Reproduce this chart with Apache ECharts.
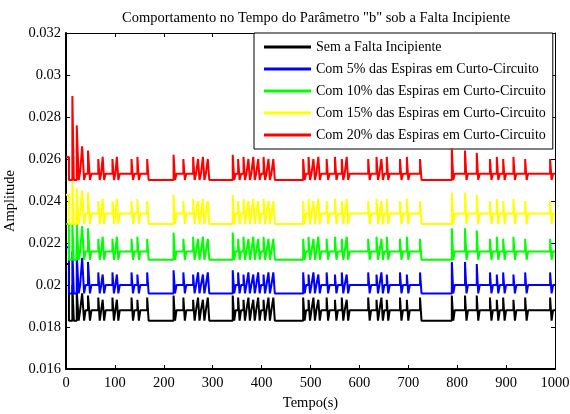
<!DOCTYPE html>
<html>
<head>
<meta charset="utf-8">
<script src="https://cdn.jsdelivr.net/npm/echarts@6/dist/echarts.min.js"></script>
<style>
  html, body { margin: 0; padding: 0; background: #fff; }
  #chart { width: 570px; height: 414px; }
</style>
</head>
<body>
<div id="chart"></div>
<script>
// Breakpoints of the step signal (s); each value holds until the next breakpoint
const tempo = [
  0, 6, 13, 16, 22, 26, 29, 33, 37, 40, 45, 49, 52,
  66, 69, 72,   75, 78, 81,   95, 98, 101,   104, 107, 110,
  134, 137, 140,   146, 149, 152,   166, 169,
  220, 223, 226,   240, 243, 246,   260, 263, 266,   270, 273, 276,
  280, 283, 286,   290, 293,
  341, 344, 347,   352, 355, 358,   363, 366, 369,   373, 376, 379,
  383, 386, 389,   393, 396, 399,   404, 407, 410,   414, 417, 420,
  424, 427,
  485, 488, 491,   496, 499, 502,   506, 509, 512,   516, 519, 522,
  533, 536, 539,   550, 553, 556,   564, 567, 570,   574, 577, 580,
  618, 621, 624,   635, 638, 641,   645, 648, 651,   656, 659, 662,
  683, 686, 689,   697, 700, 703,   724, 727,
  789, 792, 795,   816, 819, 822,   840, 843, 846,
  867, 870, 873,   881, 884, 887,   894, 897, 900,
  915, 918, 921,   939, 942, 945,   990, 993, 996,
  1000
];

const ampSemFalta = [
  0.0210, 0.0183, 0.0200, 0.0183, 0.0197, 0.0183, 0.0188, 0.0196, 0.0183, 0.0188, 0.0195, 0.0183, 0.0188,
  0.0194, 0.0183, 0.0188,   0.0193, 0.0183, 0.0188,   0.0194, 0.0183, 0.0188,   0.0193, 0.0183, 0.0188,
  0.0194, 0.0183, 0.0188,   0.0193, 0.0183, 0.0188,   0.0194, 0.0183,
  0.0195, 0.0183, 0.0188,   0.0194, 0.0183, 0.0188,   0.0193, 0.0183, 0.0188,   0.0194, 0.0183, 0.0188,
  0.0193, 0.0183, 0.0188,   0.0194, 0.0183,
  0.0195, 0.0183, 0.0188,   0.0194, 0.0183, 0.0188,   0.0193, 0.0183, 0.0188,   0.0194, 0.0183, 0.0188,
  0.0193, 0.0183, 0.0188,   0.0194, 0.0183, 0.0188,   0.0193, 0.0183, 0.0188,   0.0194, 0.0183, 0.0188,
  0.0194, 0.0183,
  0.0194, 0.0183, 0.0188,   0.0193, 0.0183, 0.0188,   0.0194, 0.0183, 0.0188,   0.0193, 0.0183, 0.0188,
  0.0194, 0.0183, 0.0188,   0.0193, 0.0183, 0.0188,   0.0194, 0.0183, 0.0188,   0.0193, 0.0183, 0.0188,
  0.0194, 0.0183, 0.0188,   0.0193, 0.0183, 0.0188,   0.0194, 0.0183, 0.0188,   0.0193, 0.0183, 0.0188,
  0.0194, 0.0183, 0.0188,   0.0193, 0.0183, 0.0188,   0.0194, 0.0183,
  0.0195, 0.0183, 0.0188,   0.0195, 0.0183, 0.0188,   0.0195, 0.0183, 0.0188,
  0.0194, 0.0183, 0.0188,   0.0193, 0.0183, 0.0188,   0.0194, 0.0183, 0.0188,
  0.0193, 0.0183, 0.0188,   0.0194, 0.0183, 0.0188,   0.0194, 0.0183, 0.0188,
  0.0188
];

const amp5 = [
  0.0218, 0.0196, 0.0216, 0.0196, 0.0215, 0.0196, 0.0200, 0.0213, 0.0196, 0.0200, 0.0211, 0.0196, 0.0200,
  0.0206, 0.0196, 0.0200,   0.0205, 0.0196, 0.0200,   0.0206, 0.0196, 0.0200,   0.0205, 0.0196, 0.0200,
  0.0206, 0.0196, 0.0200,   0.0205, 0.0196, 0.0200,   0.0206, 0.0196,
  0.0207, 0.0196, 0.0200,   0.0206, 0.0196, 0.0200,   0.0205, 0.0196, 0.0200,   0.0206, 0.0196, 0.0200,
  0.0205, 0.0196, 0.0200,   0.0206, 0.0196,
  0.0207, 0.0196, 0.0200,   0.0206, 0.0196, 0.0200,   0.0205, 0.0196, 0.0200,   0.0206, 0.0196, 0.0200,
  0.0205, 0.0196, 0.0200,   0.0206, 0.0196, 0.0200,   0.0205, 0.0196, 0.0200,   0.0206, 0.0196, 0.0200,
  0.0206, 0.0196,
  0.0206, 0.0196, 0.0200,   0.0205, 0.0196, 0.0200,   0.0206, 0.0196, 0.0200,   0.0205, 0.0196, 0.0200,
  0.0206, 0.0196, 0.0200,   0.0205, 0.0196, 0.0200,   0.0206, 0.0196, 0.0200,   0.0205, 0.0196, 0.0200,
  0.0206, 0.0196, 0.0200,   0.0205, 0.0196, 0.0200,   0.0206, 0.0196, 0.0200,   0.0205, 0.0196, 0.0200,
  0.0206, 0.0196, 0.0200,   0.0205, 0.0196, 0.0200,   0.0206, 0.0196,
  0.0211, 0.0196, 0.0200,   0.0211, 0.0196, 0.0200,   0.0210, 0.0196, 0.0200,
  0.0206, 0.0196, 0.0200,   0.0205, 0.0196, 0.0200,   0.0206, 0.0196, 0.0200,
  0.0205, 0.0196, 0.0200,   0.0206, 0.0196, 0.0200,   0.0206, 0.0196, 0.0200,
  0.0200
];

const amp10 = [
  0.0229, 0.0212, 0.0229, 0.0212, 0.0229, 0.0212, 0.0216, 0.0228, 0.0212, 0.0216, 0.0227, 0.0212, 0.0216,
  0.0222, 0.0212, 0.0216,   0.0223, 0.0212, 0.0216,   0.0222, 0.0212, 0.0216,   0.0223, 0.0212, 0.0216,
  0.0222, 0.0212, 0.0216,   0.0223, 0.0212, 0.0216,   0.0222, 0.0212,
  0.0225, 0.0212, 0.0216,   0.0222, 0.0212, 0.0216,   0.0223, 0.0212, 0.0216,   0.0222, 0.0212, 0.0216,
  0.0223, 0.0212, 0.0216,   0.0222, 0.0212,
  0.0225, 0.0212, 0.0216,   0.0222, 0.0212, 0.0216,   0.0223, 0.0212, 0.0216,   0.0222, 0.0212, 0.0216,
  0.0223, 0.0212, 0.0216,   0.0222, 0.0212, 0.0216,   0.0223, 0.0212, 0.0216,   0.0222, 0.0212, 0.0216,
  0.0222, 0.0212,
  0.0222, 0.0212, 0.0216,   0.0223, 0.0212, 0.0216,   0.0222, 0.0212, 0.0216,   0.0223, 0.0212, 0.0216,
  0.0222, 0.0212, 0.0216,   0.0223, 0.0212, 0.0216,   0.0222, 0.0212, 0.0216,   0.0223, 0.0212, 0.0216,
  0.0222, 0.0212, 0.0216,   0.0223, 0.0212, 0.0216,   0.0222, 0.0212, 0.0216,   0.0223, 0.0212, 0.0216,
  0.0222, 0.0212, 0.0216,   0.0223, 0.0212, 0.0216,   0.0222, 0.0212,
  0.0227, 0.0212, 0.0216,   0.0227, 0.0212, 0.0216,   0.0226, 0.0212, 0.0216,
  0.0222, 0.0212, 0.0216,   0.0223, 0.0212, 0.0216,   0.0222, 0.0212, 0.0216,
  0.0223, 0.0212, 0.0216,   0.0222, 0.0212, 0.0216,   0.0222, 0.0212, 0.0216,
  0.0216
];

const amp15 = [
  0.0243, 0.0229, 0.0249, 0.0229, 0.0246, 0.0229, 0.0234, 0.0245, 0.0229, 0.0234, 0.0244, 0.0229, 0.0234,
  0.0240, 0.0229, 0.0234,   0.0241, 0.0229, 0.0234,   0.0240, 0.0229, 0.0234,   0.0241, 0.0229, 0.0234,
  0.0240, 0.0229, 0.0234,   0.0241, 0.0229, 0.0234,   0.0240, 0.0229,
  0.0243, 0.0229, 0.0234,   0.0240, 0.0229, 0.0234,   0.0241, 0.0229, 0.0234,   0.0240, 0.0229, 0.0234,
  0.0241, 0.0229, 0.0234,   0.0240, 0.0229,
  0.0243, 0.0229, 0.0234,   0.0240, 0.0229, 0.0234,   0.0241, 0.0229, 0.0234,   0.0240, 0.0229, 0.0234,
  0.0241, 0.0229, 0.0234,   0.0240, 0.0229, 0.0234,   0.0241, 0.0229, 0.0234,   0.0240, 0.0229, 0.0234,
  0.0240, 0.0229,
  0.0240, 0.0229, 0.0234,   0.0241, 0.0229, 0.0234,   0.0240, 0.0229, 0.0234,   0.0241, 0.0229, 0.0234,
  0.0240, 0.0229, 0.0234,   0.0241, 0.0229, 0.0234,   0.0240, 0.0229, 0.0234,   0.0241, 0.0229, 0.0234,
  0.0240, 0.0229, 0.0234,   0.0241, 0.0229, 0.0234,   0.0240, 0.0229, 0.0234,   0.0241, 0.0229, 0.0234,
  0.0240, 0.0229, 0.0234,   0.0241, 0.0229, 0.0234,   0.0240, 0.0229,
  0.0244, 0.0229, 0.0234,   0.0244, 0.0229, 0.0234,   0.0243, 0.0229, 0.0234,
  0.0240, 0.0229, 0.0234,   0.0241, 0.0229, 0.0234,   0.0240, 0.0229, 0.0234,
  0.0241, 0.0229, 0.0234,   0.0240, 0.0229, 0.0234,   0.0240, 0.0229, 0.0234,
  0.0234
];

const amp20 = [
  0.0261, 0.0250, 0.0290, 0.0250, 0.0276, 0.0250, 0.0254, 0.0266, 0.0250, 0.0253, 0.0264, 0.0250, 0.0253,
  0.0260, 0.0250, 0.0253,   0.0261, 0.0250, 0.0253,   0.0260, 0.0250, 0.0253,   0.0261, 0.0250, 0.0253,
  0.0260, 0.0250, 0.0253,   0.0261, 0.0250, 0.0253,   0.0260, 0.0250,
  0.0262, 0.0250, 0.0253,   0.0260, 0.0250, 0.0253,   0.0261, 0.0250, 0.0253,   0.0260, 0.0250, 0.0253,
  0.0261, 0.0250, 0.0253,   0.0260, 0.0250,
  0.0262, 0.0250, 0.0253,   0.0260, 0.0250, 0.0253,   0.0261, 0.0250, 0.0253,   0.0260, 0.0250, 0.0253,
  0.0261, 0.0250, 0.0253,   0.0260, 0.0250, 0.0253,   0.0261, 0.0250, 0.0253,   0.0260, 0.0250, 0.0253,
  0.0260, 0.0250,
  0.0260, 0.0250, 0.0253,   0.0261, 0.0250, 0.0253,   0.0260, 0.0250, 0.0253,   0.0261, 0.0250, 0.0253,
  0.0260, 0.0250, 0.0253,   0.0261, 0.0250, 0.0253,   0.0260, 0.0250, 0.0253,   0.0261, 0.0250, 0.0253,
  0.0260, 0.0250, 0.0253,   0.0261, 0.0250, 0.0253,   0.0260, 0.0250, 0.0253,   0.0261, 0.0250, 0.0253,
  0.0260, 0.0250, 0.0253,   0.0261, 0.0250, 0.0253,   0.0260, 0.0250,
  0.0265, 0.0250, 0.0253,   0.0264, 0.0250, 0.0253,   0.0263, 0.0250, 0.0253,
  0.0260, 0.0250, 0.0253,   0.0261, 0.0250, 0.0253,   0.0260, 0.0250, 0.0253,
  0.0261, 0.0250, 0.0253,   0.0260, 0.0250, 0.0253,   0.0260, 0.0250, 0.0253,
  0.0253
];

const nomes = [
  'Sem a Falta Incipiente',
  'Com 5% das Espiras em Curto-Circuito',
  'Com 10% das Espiras em Curto-Circuito',
  'Com 15% das Espiras em Curto-Circuito',
  'Com 20% das Espiras em Curto-Circuito'
];
const cores = ['#000000', '#0000ff', '#00ff00', '#ffff00', '#ff0000'];
const valores = [ampSemFalta, amp5, amp10, amp15, amp20];

const xTicks = { min: 0, max: 1000, interval: 100 };
const yTicks = { min: 0.016, max: 0.032, interval: 0.002 };

const fonte = 'Liberation Serif, Times New Roman, serif';

const chart = echarts.init(document.getElementById('chart'), null, { renderer: 'canvas' });

const tickStyle = { show: true, inside: true, length: 4, lineStyle: { color: '#000', width: 1 } };

chart.setOption({
  animation: false,
  backgroundColor: '#fff',
  title: {
    text: 'Comportamento no Tempo do Parâmetro "b" sob a Falta Incipiente',
    left: 117, top: 6,
    textStyle: { fontFamily: fonte, fontSize: 14.5, fontWeight: 'normal', color: '#000' }
  },
  legend: {
    data: nomes,
    orient: 'vertical',
    left: 254, top: 33,
    padding: [6, 7, 6, 10],
    itemGap: 6,
    itemWidth: 47,
    itemHeight: 3,
    icon: 'rect',
    backgroundColor: '#fff',
    borderColor: '#000',
    borderWidth: 1,
    borderRadius: 0,
    textStyle: { fontFamily: fonte, fontSize: 14, color: '#000', lineHeight: 16 }
  },
  grid: { left: 66, right: 15, top: 33, bottom: 45, containLabel: false, outerBoundsMode: 'none' },
  xAxis: [
    {
      type: 'value', ...xTicks,
      name: 'Tempo(s)', nameLocation: 'middle', nameGap: 24,
      nameTextStyle: { fontFamily: fonte, fontSize: 14.5, color: '#000' },
      axisLine: { show: true, onZero: false, lineStyle: { color: '#000', width: 2 } },
      axisTick: tickStyle,
      axisLabel: {
        fontFamily: fonte, fontSize: 14.5, color: '#000', margin: 7,
        formatter: v => String(v)
      },
      splitLine: { show: false }
    },
    {
      type: 'value', ...xTicks, position: 'top',
      axisLine: { show: true, onZero: false, lineStyle: { color: '#000', width: 1 } },
      axisTick: tickStyle, axisLabel: { show: false }, splitLine: { show: false }
    }
  ],
  yAxis: [
    {
      type: 'value', ...yTicks,
      name: 'Amplitude', nameLocation: 'middle', nameGap: 44,
      nameTextStyle: { fontFamily: fonte, fontSize: 14.5, color: '#000' },
      axisLine: { show: true, onZero: false, lineStyle: { color: '#000', width: 2 } },
      axisTick: tickStyle,
      axisLabel: {
        fontFamily: fonte, fontSize: 14.5, color: '#000', margin: 5,
        formatter: v => String(parseFloat(v.toFixed(3)))
      },
      splitLine: { show: false }
    },
    {
      type: 'value', ...yTicks, position: 'right',
      axisLine: { show: true, onZero: false, lineStyle: { color: '#000', width: 1 } },
      axisTick: tickStyle, axisLabel: { show: false }, splitLine: { show: false }
    }
  ],
  series: valores.map((arr, k) => ({
    name: nomes[k],
    type: 'line',
    step: 'end',
    showSymbol: false,
    symbol: 'none',
    color: cores[k],
    lineStyle: { color: cores[k], width: 2 },
    data: tempo.map((t, i) => [t, arr[i]]),
    z: 2 + k
  }))
});
</script>
</body>
</html>
